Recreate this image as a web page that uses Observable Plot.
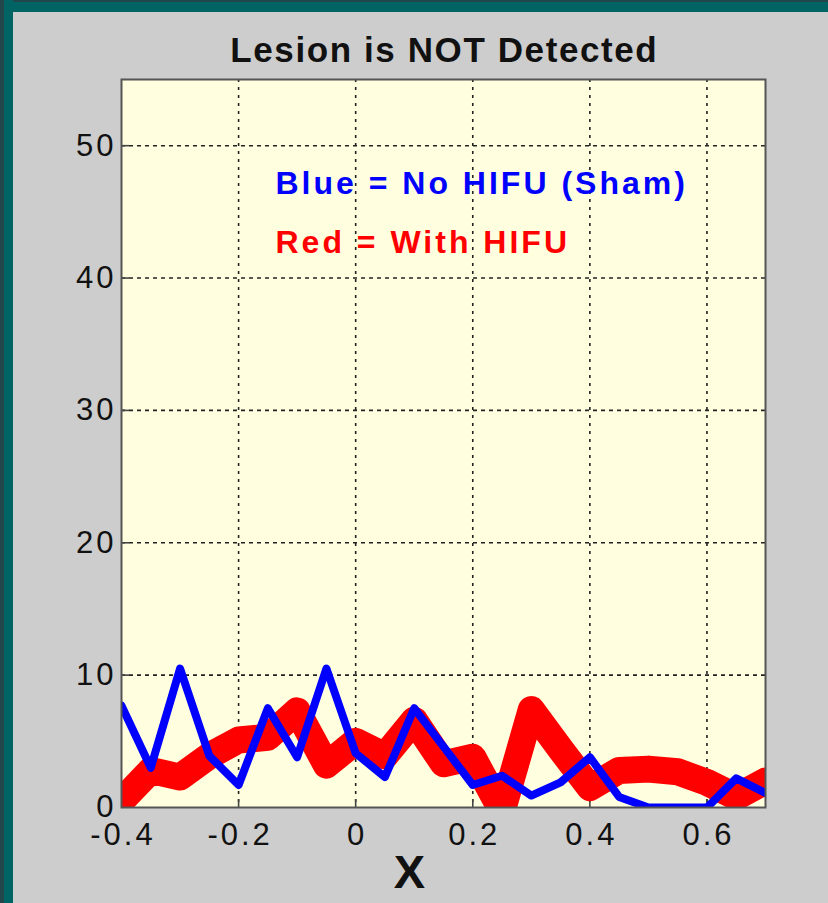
<!DOCTYPE html>
<html>
<head>
<meta charset="utf-8">
<script src="https://cdn.jsdelivr.net/npm/d3@7"></script>
<script src="https://cdn.jsdelivr.net/npm/@observablehq/plot@0.6"></script>
<style>
  html, body { margin: 0; padding: 0; background: #cdcdcd; }
  #wrap { position: relative; width: 828px; height: 903px; background: #cdcdcd; overflow: hidden; }
  #wrap svg { position: absolute; left: 0; top: 0; }
  .bandTop { position: absolute; left: 0; top: 0; width: 828px; height: 12px; background: #006464; border-top: 2px solid #21474d; box-sizing: border-box; }
  .bandLeft { position: absolute; left: 0; top: 0; width: 13px; height: 903px; background: #006464; border-left: 4px solid #21474d; box-sizing: border-box; }
</style>
</head>
<body>
<div id="wrap"></div>
<script>
const titleText = "Lesion is NOT Detected";
const xLabel = "X";
const legendBlue = "Blue = No HIFU (Sham)";
const legendRed = "Red = With HIFU";

const xValues = [-0.4, -0.35, -0.3, -0.25, -0.2, -0.15, -0.1, -0.05, 0, 0.05, 0.1, 0.15, 0.2, 0.25, 0.3, 0.35, 0.4, 0.45, 0.5, 0.55, 0.6, 0.65, 0.7];
const blueValues = [7.7, 3.0, 10.5, 3.9, 1.7, 7.5, 3.8, 10.5, 4.1, 2.3, 7.5, 4.6, 1.7, 2.4, 0.9, 1.9, 3.8, 0.8, 0, 0, 0, 2.2, 1.1];
const redValues = [0.5, 2.8, 2.3, 3.9, 5.1, 5.3, 7.3, 3.2, 5.0, 3.9, 6.6, 3.3, 3.8, -0.3, 7.4, 4.4, 1.5, 2.8, 2.9, 2.7, 1.9, 0.8, 2.0];

const xTicks = [-0.4, -0.2, 0, 0.2, 0.4, 0.6];
const yTicks = [0, 10, 20, 30, 40, 50];

const blue = xValues.map((x, i) => ({x, y: blueValues[i]}));
const red = xValues.map((x, i) => ({x, y: redValues[i]}));

const fontFam = "'Liberation Sans', Arial, Helvetica, sans-serif";

const chart = Plot.plot({
  width: 828,
  height: 903,
  marginLeft: 121,
  marginRight: 63,
  marginTop: 79,
  marginBottom: 96,
  style: { background: "transparent", fontFamily: fontFam, color: "#111" },
  x: { domain: [-0.4, 0.7], axis: null },
  y: { domain: [0, 55], axis: null },
  marks: [
    Plot.frame({ fill: "#ffffe0", stroke: null }),
    Plot.gridX(xTicks.filter(d => d > -0.4), { stroke: "#222", strokeOpacity: 1, strokeWidth: 1.6, strokeDasharray: "3,5" }),
    Plot.gridY(yTicks.filter(d => d > 0), { stroke: "#222", strokeOpacity: 1, strokeWidth: 1.6, strokeDasharray: "4,4" }),
    Plot.ruleX(xTicks.filter(d => d > -0.4), { y1: 0, y2: 0.6, stroke: "#444", strokeWidth: 1.6 }),
    Plot.ruleY(yTicks.filter(d => d > 0), { x1: -0.4, x2: -0.386, stroke: "#444", strokeWidth: 1.6 }),
    Plot.line(red, { x: "x", y: "y", stroke: "#ff0000", strokeWidth: 27, strokeLinejoin: "round", strokeLinecap: "round", clip: true }),
    Plot.line(blue, { x: "x", y: "y", stroke: "#0000ff", strokeWidth: 8, strokeLinejoin: "round", strokeLinecap: "round", clip: true }),
    Plot.frame({ stroke: "#555", strokeWidth: 2 }),
    Plot.axisX(xTicks, { tickSize: 0, tickPadding: 15, fontSize: 31, tickFormat: d => String(d), label: null, fill: "#111", dx: 1.5 }),
    Plot.axisY(yTicks, { tickSize: 0, tickPadding: 5, fontSize: 31, tickFormat: d => String(d), label: null, fill: "#111" }),
    Plot.text([titleText], { frameAnchor: "top", dy: -18, lineAnchor: "bottom", fontSize: 35, fontWeight: "bold", fill: "#111", dx: 0.8 }),
    Plot.text([xLabel], { frameAnchor: "bottom", dx: -34, dy: 80, lineAnchor: "bottom", fontSize: 47, fontWeight: "bold", fill: "#111" }),
    Plot.text([legendBlue], { frameAnchor: "top-left", dx: 154, dy: 114, lineAnchor: "bottom", textAnchor: "start", fontSize: 32, fontWeight: "bold", fill: "#0000ff" }),
    Plot.text([legendRed], { frameAnchor: "top-left", dx: 154, dy: 173, lineAnchor: "bottom", textAnchor: "start", fontSize: 32, fontWeight: "bold", fill: "#ff0000" })
  ]
});

const tickStrings = new Set([...xTicks, ...yTicks].map(d => String(d)));
d3.select(chart).selectAll("text").each(function () {
  const s = this.textContent;
  let ls = null;
  if (tickStrings.has(s)) ls = "3px";
  else if (s === titleText) ls = "1.6px";
  else if (s === legendBlue || s === legendRed) ls = "3px";
  if (ls) { this.setAttribute("letter-spacing", ls); this.style.letterSpacing = ls; }
});

const wrap = document.getElementById("wrap");
wrap.appendChild(chart);
const t = document.createElement("div"); t.className = "bandTop"; wrap.appendChild(t);
const l = document.createElement("div"); l.className = "bandLeft"; wrap.appendChild(l);
</script>
</body>
</html>
